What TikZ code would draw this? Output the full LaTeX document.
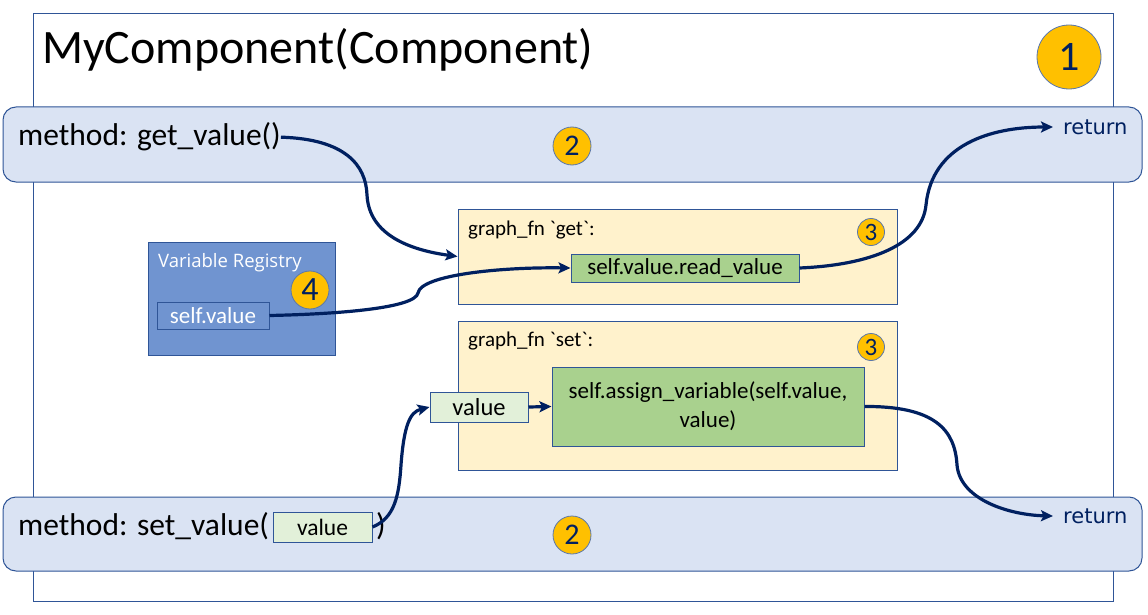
\documentclass[tikz,border=0pt]{standalone}
\usepackage{fontspec}
\setmainfont{Carlito}[Ligatures=TeXOff]
\newfontfamily\verd{DejaVu Sans}
\newfontfamily\segoe{Open Sans}
\usetikzlibrary{arrows.meta}
\definecolor{navy}{HTML}{002060}
\definecolor{frameblue}{HTML}{2F5597}
\definecolor{barfill}{HTML}{DAE3F3}
\definecolor{yel}{HTML}{FFF2CC}
\definecolor{grn}{HTML}{A9D18E}
\definecolor{lgrn}{HTML}{E2F0D9}
\definecolor{regblue}{HTML}{7094D0}
\definecolor{gold}{HTML}{FFC000}
\newcommand{\fs}[1]{\fontsize{#1}{#1}\selectfont}
\begin{document}
\begin{tikzpicture}[x=1pt,y=-1pt,
  boxbase/.style={anchor=center,inner sep=0pt,line width=1pt,draw=frameblue},
  bar/.style={boxbase,fill=barfill,rounded corners=13pt},
  fnbox/.style={boxbase,fill=yel},
  codebox/.style={boxbase,fill=grn,font=\fs{23}},
  valbox/.style={boxbase,fill=lgrn},
  regbox/.style={boxbase,fill=regblue},
  badge/.style={circle,draw=frameblue!80,fill=gold,text=navy,inner sep=0pt,line width=0.8pt},
  conn/.style={draw=navy,line width=3.2pt,-{Stealth[length=12pt,width=11pt,inset=2.5pt]}},
  retlbl/.style={anchor=west,inner ysep=0pt,inner xsep=10pt,text=navy,font=\verd\fs{21}},
]
\useasboundingbox (0,0) rectangle (1148,615);
% outer frame
\node[boxbase,fill=white,minimum width=1080pt,minimum height=587pt] (frame) at (573,307.5) {};
\node[anchor=base west,inner sep=0pt,font=\fs{48}] (title) at (42,64) {MyComponent(Component)};
\node[badge,minimum size=64pt,font=\fs{42}] (b1) at (1069,57) {1};
% bars
\node[bar,minimum width=1139pt,minimum height=75pt] (topbar) at (572.5,144.5) {};
\node[bar,minimum width=1139pt,minimum height=74pt] (botbar) at (572.5,534) {};
\node[anchor=base west,inner sep=0pt,font=\fs{31.5}] (getm) at (18,146) {method: get\_value()};
\node[badge,minimum size=38pt,font=\fs{30}] (b2a) at (572,146) {2};
\node[retlbl] (ret1) at (1053,127) {return};
\node[anchor=base west,inner sep=0pt,font=\fs{31.5}] (setm) at (18,535) {method: set\_value(};
\node[valbox,minimum width=99pt,minimum height=30pt,font=\fs{23.5}] (setval) at (322.5,527) {value};
\node[anchor=base west,inner sep=0pt,font=\fs{31.5}] (setclose) at (376,535) {)};
\node[badge,minimum size=38pt,font=\fs{30}] (b2b) at (572,535) {2};
\node[retlbl] (ret2) at (1053,516) {return};
% graph_fn get
\node[fnbox,minimum width=439pt,minimum height=95pt] (getfn) at (677.5,256.5) {};
\node[anchor=base west,inner sep=0pt,font=\fs{21}] (getlbl) at (468,235) {graph\_fn `get`:};
\node[badge,minimum size=27pt,font=\fs{25}] (b3a) at (871,232) {3};
\node[codebox,minimum width=228pt,minimum height=28pt] (readv) at (685,268) {self.value.read\_value};
% graph_fn set
\node[fnbox,minimum width=439pt,minimum height=149pt] (setfn) at (677.5,395.5) {};
\node[anchor=base west,inner sep=0pt,font=\fs{21}] (setlbl) at (468,346) {graph\_fn `set`:};
\node[badge,minimum size=27pt,font=\fs{25}] (b3b) at (871,347) {3};
\node[valbox,minimum width=98pt,minimum height=30pt,font=\fs{24.5}] (val) at (479,407) {value};
\node[codebox,minimum width=312pt,minimum height=79pt,align=center,font={\fontsize{23}{29}\selectfont}] (assign) at (708,406.5) {self.assign\_variable(self.value,\\value)};
% registry
\node[regbox,minimum width=187pt,minimum height=113pt] (reg) at (241.5,298.5) {};
\node[anchor=base west,inner sep=0pt,text=white,font=\segoe\fs{18.5}] (reglbl) at (158,267) {Variable Registry};
\node[regbox,minimum width=112pt,minimum height=27pt,text=white,font=\fs{23}] (regval) at (213,315.5) {self.value};
\node[badge,minimum size=38pt,font=\fs{34}] (b4) at (310,290) {4};
% connectors
\draw[conn] (getm.east) .. controls (345,139) and (366,165) .. (367,195)
  .. controls (369,235) and (410,250) .. (getfn.west);
\draw[conn] (regval.east) .. controls (340,314) and (415,308) .. (418,293)
  .. controls (421,275) and (500,267) .. (readv.west);
\draw[conn] (readv.east) .. controls (870,265) and (922,245) .. (926,205)
  .. controls (932,145) and (990,127) .. (ret1.west);
\draw[conn] (setval.east) .. controls (395,518) and (399,495) .. (401,465)
  .. controls (404,425) and (410,412) .. (val.west);
\draw[conn] (val.east) -- (assign.west);
\draw[conn] (assign.east) .. controls (935,406) and (955,430) .. (957,465)
  .. controls (960,500) and (1010,515) .. (ret2.west);
\end{tikzpicture}
\end{document}
